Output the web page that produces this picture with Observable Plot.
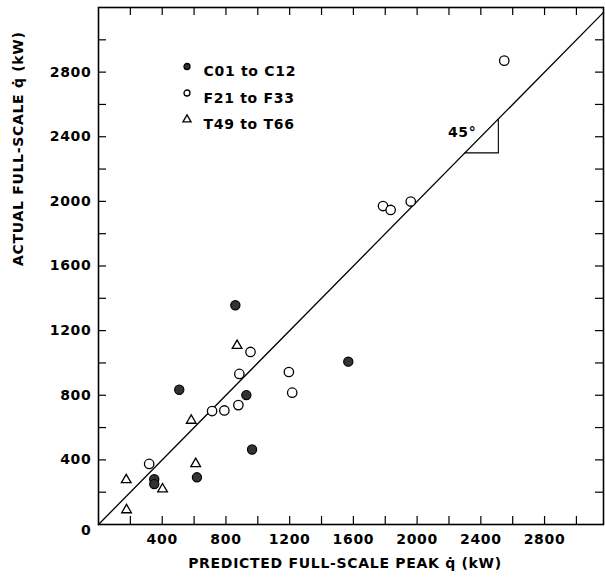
<!DOCTYPE html>
<html><head><meta charset="utf-8">
<script src="https://cdn.jsdelivr.net/npm/d3@7"></script>
<script src="https://cdn.jsdelivr.net/npm/@observablehq/plot@0.6"></script>
<style>body{margin:0;background:#fff}</style>
</head><body><div id="chart"></div>
<script>
// Series: predicted (x) vs actual (y) full-scale peak heat release rate, kW
const seriesNames = ["C01 to C12", "F21 to F33", "T49 to T66"];
const cPred   = [859, 507, 928, 964, 618, 350, 350, 1568];
const cActual = [1357, 834, 801, 464, 292, 280, 250, 1008];
const fPred   = [318, 713, 790, 884, 878, 954, 1195, 1216, 2547, 1786, 1834, 1960];
const fActual = [375, 702, 706, 932, 739, 1068, 944, 816, 2871, 1971, 1947, 1999];
const tPred   = [870, 582, 610, 174, 402, 176];
const tActual = [1107, 644, 376, 276, 219, 90];

// Axis ticks and labels
const xDomain = [0, 3170];
const yDomain = [0, 3200];
const minorTicks = [200, 400, 600, 800, 1000, 1200, 1400, 1600, 1800, 2000, 2200, 2400, 2600, 2800, 3000];
const labelTicks = [400, 800, 1200, 1600, 2000, 2400, 2800];
const originLabel = "0";
const xTitle = "PREDICTED FULL-SCALE PEAK q\u0307 (kW)";
const yTitle = "ACTUAL FULL-SCALE q\u0307 (kW)";

// 45 degree reference line and its angle annotation
const diagonal = [0, 3170];
const angleX = [2300, 2510, 2510];
const angleY = [2300, 2300, 2510];
const angleLabel = [{x: 2283, y: 2427, text: "45°"}];

const toPts = (xs, ys) => xs.map((x, i) => ({x, y: ys[i]}));
const cData = toPts(cPred, cActual);
const fData = toPts(fPred, fActual);
const tData = toPts(tPred, tActual);

const W = 605, H = 578, mL = 98, mR = 2, mT = 7, mB = 54, tickLen = 8;
const frameW = W - mL - mR, frameH = H - mT - mB;

const legendStyles = [
  {symbol: "circle", fill: "#333", stroke: "#000"},
  {symbol: "circle", fill: "white", stroke: "#000"},
  {symbol: "triangle", fill: "white", stroke: "#000"}
];
const legendMarks = seriesNames.flatMap((name, i) => [
  Plot.dot([name], {frameAnchor: "top-left", dx: 88.5, dy: 59 + i * 26.5, r: 3, strokeWidth: 1.3, ...legendStyles[i]}),
  Plot.text([name], {frameAnchor: "top-left", dx: 105, dy: 59 + i * 26.5, text: d => d, textAnchor: "start", fill: "#000"})
]);

const chart = Plot.plot({
  width: W,
  height: H,
  marginLeft: mL,
  marginRight: mR,
  marginTop: mT,
  marginBottom: mB,
  x: {domain: xDomain, label: null},
  y: {domain: yDomain, label: null},
  style: {fontFamily: "DejaVu Sans", fontSize: "14px", fontWeight: "bold", letterSpacing: "0.7px", color: "#000", background: "#fff"},
  marks: [
    Plot.line(diagonal, {x: d => d, y: d => d, stroke: "#000", strokeWidth: 1.3}),
    Plot.line(angleX.map((x, i) => ({x, y: angleY[i]})), {x: "x", y: "y", stroke: "#000", strokeWidth: 1.1}),
    Plot.text(angleLabel, {x: "x", y: "y", text: "text", fill: "#000"}),
    Plot.dot(cData, {x: "x", y: "y", r: 4.6, fill: "#333", stroke: "#000", strokeWidth: 1.2}),
    Plot.dot(fData, {x: "x", y: "y", r: 4.7, fill: "white", stroke: "#000", strokeWidth: 1.3}),
    Plot.dot(tData, {x: "x", y: "y", r: 3.6, symbol: "triangle", fill: "white", stroke: "#000", strokeWidth: 1.3}),
    // inward ticks on all four sides
    Plot.tickX(minorTicks, {x: d => d, insetTop: frameH - tickLen, stroke: "#000", strokeWidth: 1.2}),
    Plot.tickX(minorTicks, {x: d => d, insetBottom: frameH - tickLen, stroke: "#000", strokeWidth: 1.2}),
    Plot.tickY(minorTicks, {y: d => d, insetRight: frameW - tickLen, stroke: "#000", strokeWidth: 1.2}),
    Plot.tickY(minorTicks, {y: d => d, insetLeft: frameW - tickLen, stroke: "#000", strokeWidth: 1.2}),
    Plot.axisX(labelTicks, {anchor: "bottom", tickSize: 0, tickPadding: 10, tickFormat: d => String(d), label: null, fill: "#000"}),
    Plot.axisY(labelTicks, {anchor: "left", tickSize: 0, tickPadding: 7, tickFormat: d => String(d), label: null, fill: "#000"}),
    Plot.text([originLabel], {frameAnchor: "bottom-left", dx: -7, dy: 10, text: d => d, textAnchor: "end", fill: "#000"}),
    Plot.text([xTitle], {frameAnchor: "bottom", dx: -6, dy: 43, text: d => d, fill: "#000"}),
    Plot.text([yTitle], {frameAnchor: "left", dx: -80, text: d => d, rotate: -90, fill: "#000"}),
    ...legendMarks,
    Plot.frame({stroke: "#000", strokeWidth: 1.6})
  ]
});
document.getElementById("chart").append(chart);
</script>
</body></html>
